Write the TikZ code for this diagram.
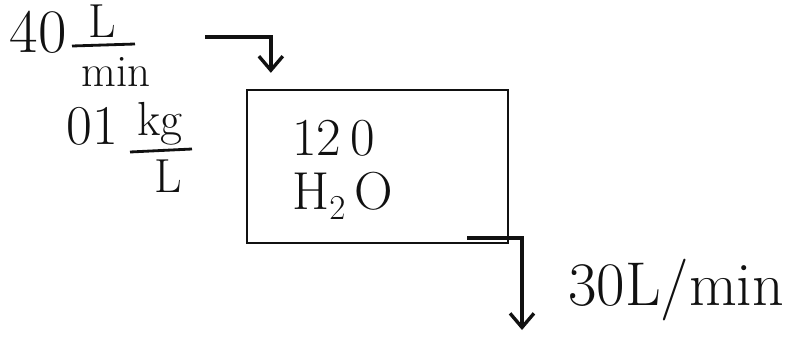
\documentclass[tikz,border=0pt]{standalone}
\usepackage{amsmath}
\usepackage{tikz}
\usetikzlibrary{calc,arrows.meta,positioning}
\definecolor{InkCol}{HTML}{111111}

\begin{document}
\begin{tikzpicture}[x=0.025cm,y=-0.025cm,
    every node/.style={font=\fontsize{34}{40}\selectfont,InkCol,inner sep=0pt},
    flow/.style={draw=InkCol, line width=2.4pt, -{Straight Barb[length=10pt,width=17pt,line width=2.4pt]}},
    bar/.style={draw=InkCol, line width=2pt},
    tankbox/.style={draw=InkCol, line width=1.6pt, minimum width=6.525cm, minimum height=3.825cm}]
  \useasboundingbox (0,0) rectangle (800,336);
  % tank
  \node[tankbox] (tank) at (377.5,166.5) {};
  \node[align=left, anchor=west, font=\fontsize{38}{38}\selectfont] (content) at (292,170) {12\,0\\H$_2$\,O};
  % inflow
  \node[font=\fontsize{44}{48}\selectfont] (flowIn) at (38,32) {40};
  \node (flowNum) at (102,21) {L};
  \node[font=\fontsize{32}{36}\selectfont] (flowDen) at (116,72) {min};
  \draw[bar] (72,46) -- (135,44);
  \node[font=\fontsize{40}{44}\selectfont] (dens) at (92,126) {01};
  \node (densNum) at (160,124) {kg};
  \node (densDen) at (168,176) {L};
  \draw[bar] (130,152) -- (192,149);
  \coordinate (inStart) at (205,37);
  \draw[flow] (inStart) -| ($(tank.north west)+(25,-16)$);
  % outflow
  \coordinate (outStart) at (467,238);
  \coordinate (outEnd) at (522,330);
  \draw[flow] (outStart) -| (outEnd);
  \node[anchor=west, font=\fontsize{44}{48}\selectfont] (flowOut) at (568,290) {30L/min};
\end{tikzpicture}
\end{document}
